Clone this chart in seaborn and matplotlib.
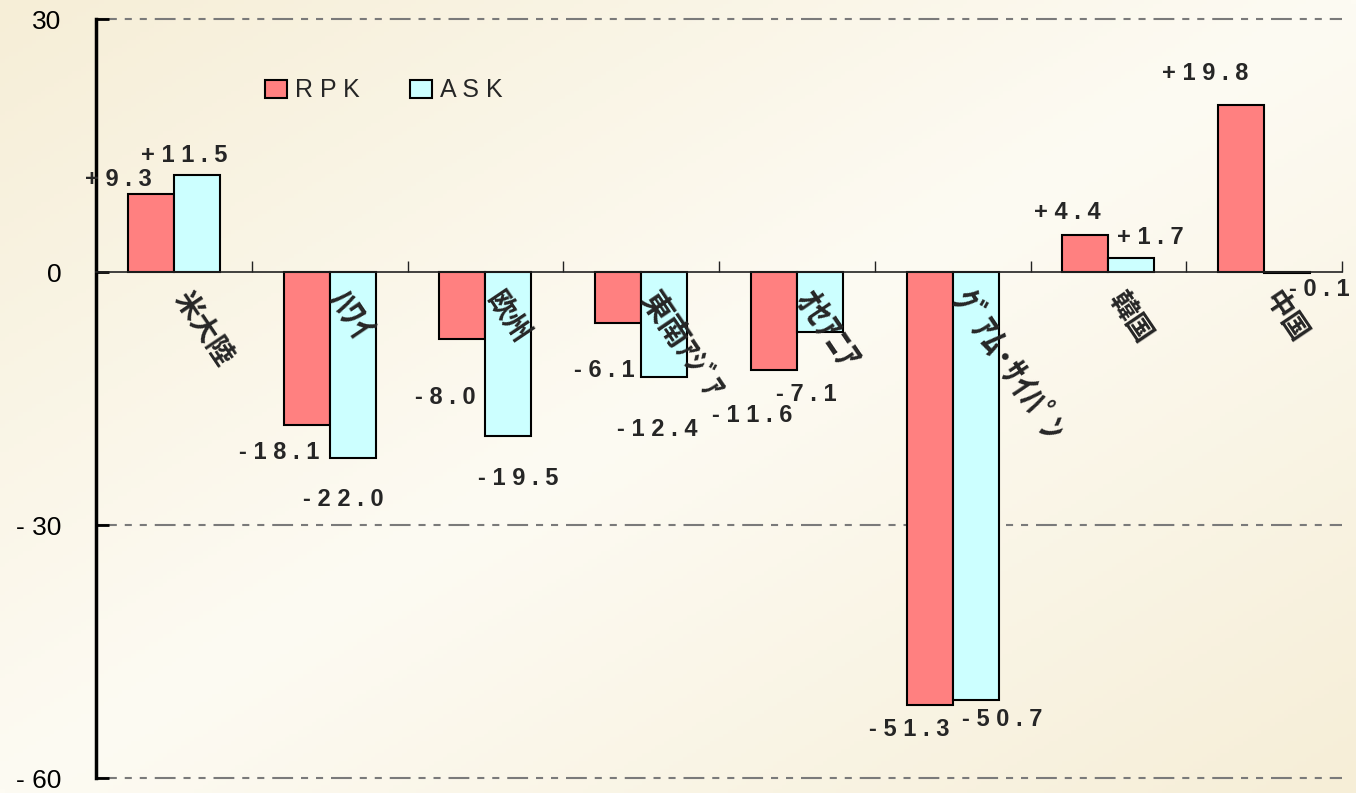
import numpy as np
import pandas as pd
import matplotlib.pyplot as plt
import seaborn as sns

# データ (前年同期比 %)
categories = ['米大陸', 'ﾊﾜｲ', '欧州', '東南ｱｼﾞｱ', 'ｵｾｱﾆｱ', 'ｸﾞｱﾑ･ｻｲﾊﾟﾝ', '韓国', '中国']
series = ['RPK', 'ASK']
rpk = [9.3, -18.1, -8.0, -6.1, -11.6, -51.3, 4.4, 19.8]
ask = [11.5, -22.0, -19.5, -12.4, -7.1, -50.7, 1.7, -0.1]
y_ticks = [30, 0, -30, -60]
y_tick_labels = ['30', '0', '- 30', '- 60']

values = {'RPK': rpk, 'ASK': ask}
df = pd.DataFrame({
    'region': categories * 2,
    'series': ['RPK'] * len(categories) + ['ASK'] * len(categories),
    'value': rpk + ask,
})

# ラベルのずらし量 (pixel)
label_offsets = {
    'RPK': [(-33, 14), (-27, -28), (-17, -58), (-14, -47), (-22, -46), (-20, -25), (-18, 22), (-36, 32)],
    'ASK': [(-13, 20), (-9, -42), (10, -42), (-7, -53), (-14, -63), (27, -20), (19, 20), (32, -17)],
}
colors = {'RPK': '#FF8080', 'ASK': '#CCFFFF'}
num_font = 'Liberation Sans'
jp_font = ['Noto Sans CJK JP', 'DejaVu Sans']


def spaced(v):
    return ' '.join(f'{v:+.1f}')


def label_size(name):
    n_kanji = sum('\u4e00' <= ch <= '\u9fff' for ch in name)
    if n_kanji == len(name):
        return 20
    if n_kanji > 0:
        return 22
    return 25


sns.set_style('ticks')
plt.rcParams['font.family'] = ['Liberation Sans', 'Noto Sans CJK JP', 'DejaVu Sans']

fig = plt.figure(figsize=(13.56, 7.93), dpi=100)

# 背景グラデーション
bg = fig.add_axes([0, 0, 1, 1], zorder=-1)
xx, yy = np.meshgrid(np.linspace(0, 1, 300), np.linspace(0, 1, 200))
d = np.abs((xx + yy) / 2 - 0.5) * 2
light = np.array([253, 251, 243]) / 255
dark = np.array([246, 238, 215]) / 255
grad = light * (1 - d[..., None]) + dark * d[..., None]
bg.imshow(grad, aspect='auto', extent=[0, 1, 0, 1], origin='upper')
bg.axis('off')

ax = fig.add_axes([0.0708, 0.0189, 0.9189, 0.9571])
ax.set_facecolor('none')

sns.barplot(data=df, x='region', y='value', hue='series', hue_order=series,
            palette=colors, saturation=1, width=0.59, gap=0,
            edgecolor='black', linewidth=1.5, ax=ax)

ax.set_xlim(-0.5, len(categories) - 0.5)
ax.set_ylim(min(y_ticks), max(y_ticks))

# 補助線
for yv in y_ticks:
    if yv != 0:
        ax.axhline(yv, color='#7a7a7a', lw=1.5, ls=(0, (10, 3.8, 3.4, 3.8, 3.4, 3.8)),
                   zorder=0.5, clip_on=False)

for s in ['top', 'right']:
    ax.spines[s].set_visible(False)
ax.spines['left'].set_linewidth(2.5)
ax.spines['left'].set_color('black')
ax.spines['bottom'].set_position(('data', 0))
ax.spines['bottom'].set_linewidth(1.2)
ax.spines['bottom'].set_color('#222222')

ax.set_yticks(y_ticks)
ax.set_yticklabels(y_tick_labels, fontsize=19, family=num_font)
ax.tick_params(axis='y', direction='in', length=9, width=2, pad=25, color='black',
               labelcolor='black')

ax.set_xticks(np.arange(len(categories)))
ax.set_xticklabels([''] * len(categories))
ax.set_xticks(np.arange(len(categories)) + 0.5, minor=True)
ax.tick_params(axis='x', which='major', length=0)
ax.tick_params(axis='x', which='minor', direction='in', length=8, width=1, color='#222222')
ax.set_xlabel('')
ax.set_ylabel('')

# 地域名
for i, name in enumerate(categories):
    ax.annotate(name, xy=(i, 0), xytext=(6, -22), textcoords='offset pixels',
                rotation=-56, rotation_mode='anchor', ha='left', va='center',
                fontsize=label_size(name), fontweight='bold', family=jp_font)

# 数値ラベル
for cont, s in zip(ax.containers, series):
    for bar, v, (dx, dy) in zip(cont, values[s], label_offsets[s]):
        xc = bar.get_x() + bar.get_width() / 2
        ax.annotate(spaced(v), xy=(xc, v), xytext=(dx, dy), textcoords='offset pixels',
                    ha='center', va='center', fontsize=17, fontweight='bold',
                    family=num_font)

handles, labels = ax.get_legend_handles_labels()
ax.legend(handles, [' '.join(l) for l in labels], loc='center left',
          bbox_to_anchor=(0.1356, 0.906), ncol=2, frameon=False,
          prop={'family': num_font, 'size': 18}, handlelength=0.9, handleheight=0.72,
          handletextpad=0.3, columnspacing=2.0, borderpad=0, borderaxespad=0)

plt.savefig('out.png', dpi=100)
plt.close()
